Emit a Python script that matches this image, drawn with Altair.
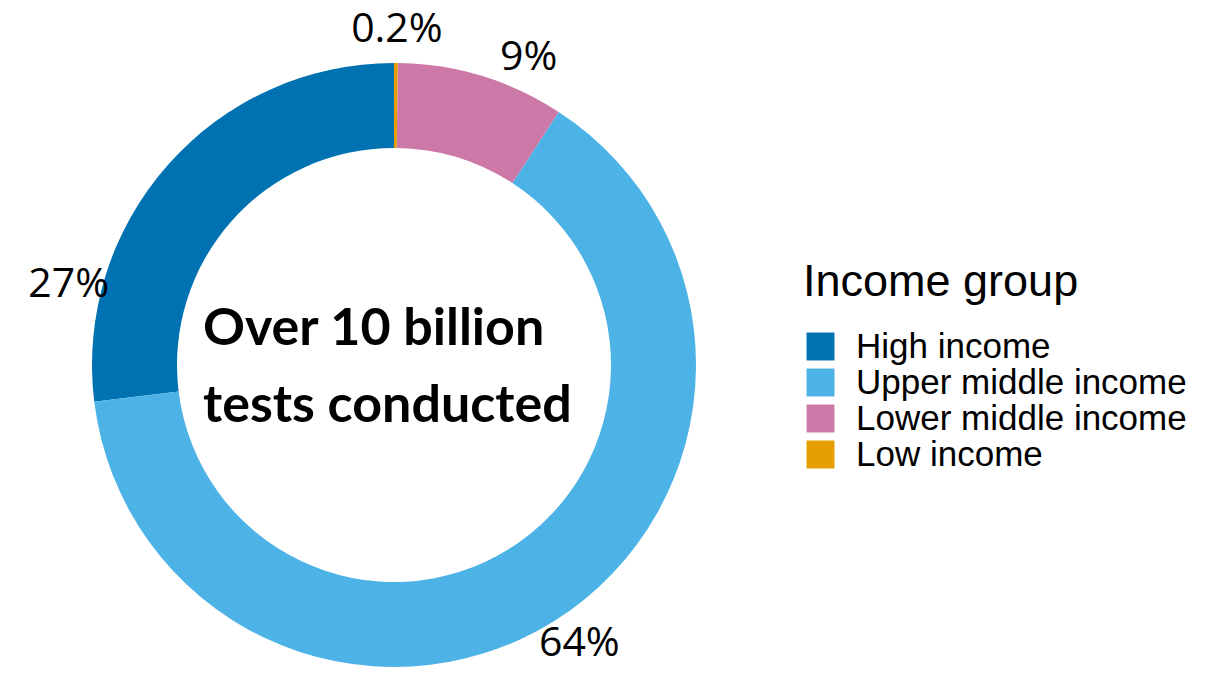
import altair as alt
import pandas as pd

groups = ["High income", "Upper middle income", "Lower middle income", "Low income"]
shares = [27, 64, 9, 0.2]
stack_order = [4, 3, 2, 1]
colors = ["#0072B2", "#4DB3E6", "#CC79A7", "#E69F00"]
labels = ["27%", "64%", "9%", "0.2%"]
label_pos = [79.0, 40.75, 6.6, 0.14]
center_lines = ["Over 10 billion", "tests conducted"]

df = pd.DataFrame({
    "group": groups,
    "share": shares,
    "stack_order": stack_order,
    "label": labels,
    "label_pos": label_pos,
})

total = sum(shares)
CX, CY = 386, 357
SANS = "Arial, Liberation Sans, sans-serif"

arcs = alt.Chart(df).mark_arc(radius=302, radius2=217, strokeWidth=0).encode(
    theta=alt.Theta("share:Q", stack=True, scale=alt.Scale(domain=[0, total])),
    order=alt.Order("stack_order:Q"),
    color=alt.Color(
        "group:N",
        scale=alt.Scale(domain=groups, range=colors),
        legend=alt.Legend(
            orient="none", legendX=795, legendY=252,
            title="Income group", titleFontSize=45, titleFont=SANS,
            titleFontWeight="normal", titleColor="black", titlePadding=24,
            titleLimit=800,
            labelFont=SANS, labelFontSize=35, labelColor="black",
            labelLimit=800, labelOffset=18,
            symbolType="square", symbolSize=780, symbolStrokeWidth=0,
            symbolOpacity=1, rowPadding=0,
        ),
    ),
    x=alt.value(CX),
    y=alt.value(CY),
)

pct = alt.Chart(df).mark_text(
    radius=335, font="Open Sans", fontSize=41, color="black",
    align="center", baseline="middle",
).encode(
    theta=alt.Theta("label_pos:Q", stack=False, scale=alt.Scale(domain=[0, total])),
    text="label:N",
    x=alt.value(CX),
    y=alt.value(CY),
)

center = alt.Chart(pd.DataFrame({"k": [0]})).mark_text(
    font="Lato", fontWeight="bold", fontSize=52, lineHeight=77, color="black",
    align="left", baseline="alphabetic",
).encode(
    x=alt.value(195),
    y=alt.value(337),
    text=alt.value(center_lines),
)

chart = alt.layer(arcs, pct, center).properties(
    width=1193, height=663,
    autosize=alt.AutoSizeParams(type="none"),
    padding=0,
).configure_view(stroke=None)

chart.save("out.html", embed_options={"renderer": "svg", "actions": False})
